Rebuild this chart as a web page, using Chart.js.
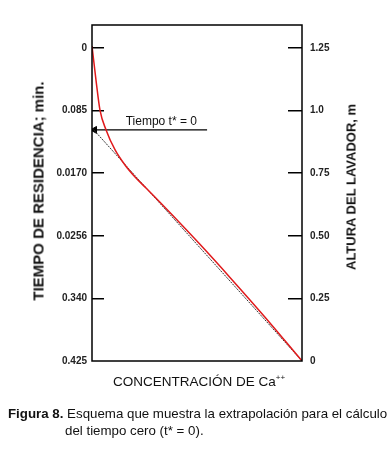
<!DOCTYPE html>
<html>
<head>
<meta charset="utf-8">
<script src="https://cdn.jsdelivr.net/npm/chart.js@4.4.1/dist/chart.umd.min.js"></script>
<style>
  html, body { margin: 0; padding: 0; background: #fff; }
  #wrap { position: relative; width: 391px; height: 453px; overflow: hidden; }
  #chart { position: absolute; left: 0; top: 0; }
  .ytitle { position: absolute; white-space: nowrap; font-family: "Liberation Sans", Arial, sans-serif;
            font-weight: bold; color: #111; transform: translate(-50%, -50%) rotate(-90deg); }
  #xtitle { position: absolute; left: 199px; top: 381px; transform: translate(-50%, -50%);
            font-family: "Liberation Sans", Arial, sans-serif; font-size: 13.5px; color: #111; white-space: nowrap; }
  #caption { position: absolute; left: 8px; top: 405px; font-family: "Liberation Sans", Arial, sans-serif;
             font-size: 13.3px; line-height: 17px; color: #111; white-space: nowrap; }
  #caption .l2 { padding-left: 57px; }
</style>
</head>
<body>
<div id="wrap">
  <canvas id="chart" width="391" height="453"></canvas>
  <div class="ytitle" style="left:38px; top:191px; font-size:15px;">TIEMPO DE RESIDENCIA; min.</div>
  <div class="ytitle" style="left:351px; top:187px; font-size:13px;">ALTURA DEL LAVADOR, m</div>
  <div id="xtitle">CONCENTRACIÓN DE Ca<sup style="font-size:8px">++</sup></div>
  <div id="caption"><b>Figura 8.</b> Esquema que muestra la extrapolación para el cálculo<br><span class="l2">del tiempo cero (t* = 0).</span></div>
</div>
<script>
// ==================== DATOS ====================
// tiempo de residencia (eje izquierdo, invertido)
const leftTickLabels = ['0', '0.085', '0.0170', '0.0256', '0.340', '0.425'];
// altura del lavador (eje derecho)
const rightTickValues = [0, 0.25, 0.5, 0.75, 1.0, 1.25];
const rightTickLabels = ['0', '0.25', '0.50', '0.75', '1.0', '1.25'];

// curva medida: concentración (relativa) vs altura
const curveConc   = [0, 0.019, 0.038, 0.067, 0.110, 0.157, 0.205, 0.257, 0.371, 0.514, 0.657, 0.824, 1];
const curveHeight = [1.258, 1.122, 1.002, 0.923, 0.843, 0.783, 0.735, 0.691, 0.593, 0.466, 0.334, 0.175, 0];

// extrapolación lineal
const extrapConc   = [0, 1];
const extrapHeight = [0.931, 0];

// flecha "Tiempo t* = 0"
const arrowConc   = [0.012, 0.548];
const arrowHeight = [0.923, 0.923];
const arrowLabel = 'Tiempo t* = 0';

const toPoints = (xs, ys) => xs.map((x, i) => ({ x: x, y: ys[i] }));

// marco + etiqueta de la flecha
const framePlugin = {
    id: 'frame',
    afterDatasetsDraw(chart) {
        const { ctx, chartArea, scales } = chart;
        ctx.save();
        ctx.strokeStyle = '#000';
        ctx.lineWidth = 1.5;
        ctx.strokeRect(chartArea.left, chartArea.top, chartArea.right - chartArea.left, chartArea.bottom - chartArea.top);
        ctx.fillStyle = '#111';
        ctx.font = '12px "Liberation Sans", Arial, sans-serif';
        ctx.textAlign = 'center';
        ctx.textBaseline = 'bottom';
        ctx.fillText(arrowLabel, scales.x.getPixelForValue(0.33), scales.y2.getPixelForValue(arrowHeight[0]) - 2);
        ctx.restore();
    }
};

// ancho fijo del eje, sin relleno extra arriba/abajo
const fixWidth = w => s => { s.width = w; s.paddingTop = 0; s.paddingBottom = 0; };

new Chart(document.getElementById('chart'), {
    type: 'line',
    data: {
        datasets: [{
            data: toPoints(curveConc, curveHeight),
            yAxisID: 'y2',
            borderColor: '#e0191b',
            borderWidth: 1.5,
            pointRadius: 0,
            cubicInterpolationMode: 'monotone'
        }, {
            data: toPoints(extrapConc, extrapHeight),
            yAxisID: 'y2',
            borderColor: '#333',
            borderWidth: 1,
            borderDash: [2, 1],
            pointRadius: 0
        }, {
            data: toPoints(arrowConc, arrowHeight),
            yAxisID: 'y2',
            borderColor: '#000',
            backgroundColor: '#000',
            borderWidth: 1.2,
            pointStyle: 'triangle',
            pointRotation: -90,
            pointRadius: [4, 0],
            pointBorderWidth: 1
        }]
    },
    options: {
        responsive: false,
        animation: false,
        layout: { padding: { top: 25, left: 0, right: 0, bottom: 0 } },
        plugins: { legend: { display: false }, tooltip: { enabled: false } },
        scales: {
            x: {
                type: 'linear',
                min: 0,
                max: 1,
                ticks: { display: false },
                grid: { display: false },
                border: { display: false },
                afterFit: s => { s.height = 92; }
            },
            y: {
                type: 'linear',
                position: 'left',
                reverse: true,
                min: -0.368,
                max: 5,
                afterBuildTicks: s => { s.ticks = leftTickLabels.map((l, i) => ({ value: i })); },
                ticks: {
                    callback: (v, i) => leftTickLabels[i],
                    font: { family: '"Liberation Sans", Arial, sans-serif', size: 10, weight: 'bold' },
                    color: '#222',
                    padding: 17,
                    autoSkip: false
                },
                grid: {
                    drawOnChartArea: false,
                    tickLength: -12,
                    lineWidth: 1.5,
                    color: c => (c.index === leftTickLabels.length - 1 ? 'rgba(0,0,0,0)' : '#000')
                },
                border: { display: false },
                afterFit: fixWidth(92)
            },
            y2: {
                type: 'linear',
                position: 'right',
                min: 0,
                max: 1.342,
                afterBuildTicks: s => { s.ticks = rightTickValues.map(v => ({ value: v })); },
                ticks: {
                    callback: (v, i) => rightTickLabels[i],
                    font: { family: '"Liberation Sans", Arial, sans-serif', size: 10, weight: 'bold' },
                    color: '#222',
                    padding: 22,
                    autoSkip: false
                },
                grid: {
                    drawOnChartArea: false,
                    tickLength: -14,
                    lineWidth: 1.5,
                    color: c => (c.index === 0 ? 'rgba(0,0,0,0)' : '#000')
                },
                border: { display: false },
                afterFit: fixWidth(89)
            }
        }
    },
    plugins: [framePlugin]
});
</script>
</body>
</html>
